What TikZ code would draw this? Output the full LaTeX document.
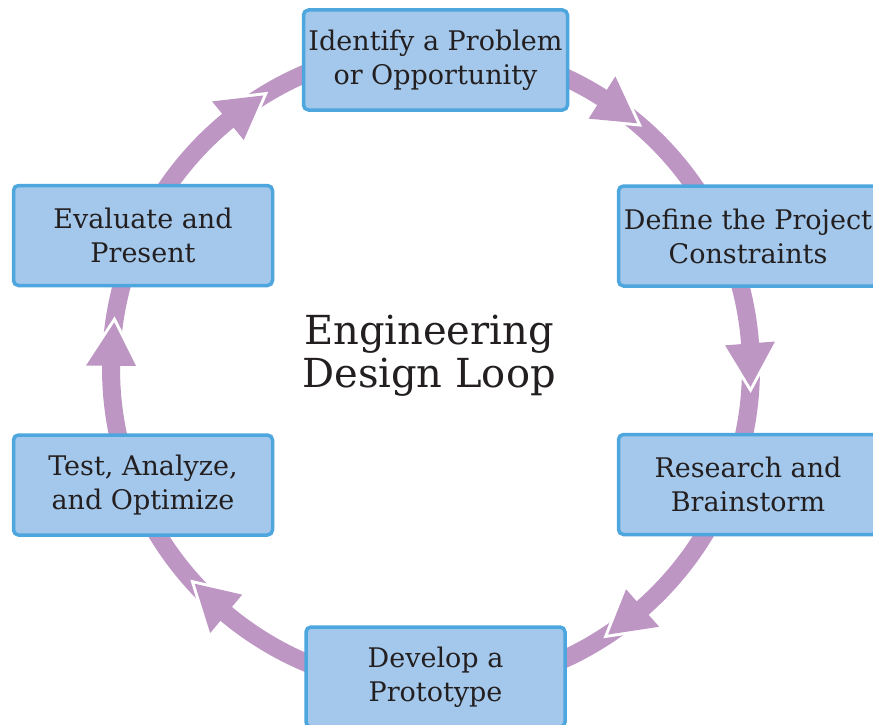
\documentclass[tikz,border=0pt]{standalone}
\usepackage{fontspec}
\setmainfont{DejaVu Serif}
\usetikzlibrary{calc}
\definecolor{loopcol}{HTML}{BD96C4}
\definecolor{boxfill}{HTML}{A4C8EB}
\definecolor{boxline}{HTML}{4EA6DE}
\definecolor{ink}{HTML}{231F20}
\begin{document}
\begin{tikzpicture}[x=1pt,y=-1pt,
  stepbox/.style={draw=boxline, fill=boxfill, line width=3.5pt, rounded corners=5pt,
    minimum width=259pt, minimum height=100pt, align=center, text=ink,
    inner sep=0pt, font=\fontsize{27}{34}\selectfont},
  ring/.style={draw=loopcol, line width=18pt},
  notch/.style={draw=white, line width=6pt, line join=miter, miter limit=10}]
\clip (0,0) rectangle (873,725);
\fill[white] (0,0) rectangle (873,725);

% centre and radius of the loop
\coordinate (loopc) at (431,368);
\def\rr{320}

% the ring itself
\draw[ring] (loopc) circle[radius=\rr];

% arrowheads along the ring, each with a small white gap at its tip
\foreach \a in {-49.9,3.4,56.4,137.6,188.2,238.4}{
  \coordinate (tip) at ($(loopc)+(\a:\rr)$);
  \coordinate (bo) at ($(loopc)+({\a-7.8}:{\rr+25})$);
  \coordinate (bi) at ($(loopc)+({\a-7.8}:{\rr-25})$);
  \draw[notch] (bo) -- (tip) -- (bi);
  \fill[loopcol] (bo) -- (tip) -- (bi) -- cycle;
}

% the six stages
\node[stepbox, minimum width=264pt] (identify) at (435.5,60) {Identify a Problem\\or Opportunity};
\node[stepbox] (define)   at (748,236)   {Define the Project\\Constraints};
\node[stepbox] (research) at (748,484.5) {Research and\\Brainstorm};
\node[stepbox] (develop)  at (435.5,677) {Develop a\\Prototype};
\node[stepbox] (test)     at (143,485)   {Test, Analyze,\\and Optimize};
\node[stepbox] (evaluate) at (143,235.5) {Evaluate and\\Present};

% title in the middle
\node[align=center, text=ink, font=\fontsize{40}{43}\selectfont] (title) at (429,356)
  {Engineering\\Design Loop};
\end{tikzpicture}
\end{document}
